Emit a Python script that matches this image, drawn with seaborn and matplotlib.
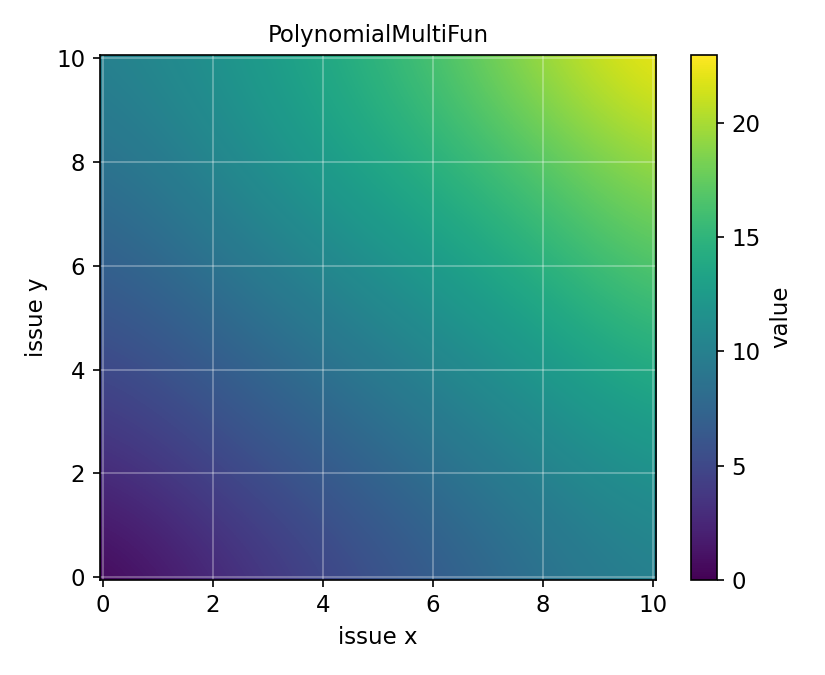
import matplotlib
matplotlib.use("Agg")
import matplotlib.pyplot as plt
import numpy as np
import seaborn as sns

# grid positions (issue x / issue y) and values
issue_x = [0, 2, 4, 6, 8, 10]
issue_y = [0, 2, 4, 6, 8, 10]

# one row per issue y value, bottom (y=0) to top (y=10)
value_y0 = [0.0, 2.4, 4.6, 6.5, 8.5, 10.0]
value_y2 = [2.6, 4.6, 6.4, 8.3, 10.1, 11.8]
value_y4 = [4.8, 6.6, 8.5, 10.3, 12.2, 14.3]
value_y6 = [6.8, 8.7, 10.6, 12.5, 14.6, 17.0]
value_y8 = [8.5, 10.5, 12.7, 14.7, 17.0, 19.6]
value_y10 = [10.0, 11.7, 13.9, 16.4, 19.9, 23.0]

values = np.array([value_y0, value_y2, value_y4, value_y6, value_y8, value_y10])

cmap = sns.color_palette("viridis", as_cmap=True)
plt.rcParams["font.size"] = 11

fig = plt.figure(figsize=(5.5, 4.5), dpi=150)
ax = fig.add_axes([0.121, 0.141, 0.674, 0.778])
cax = fig.add_axes([0.8376, 0.141, 0.0315, 0.778])

step = issue_x[1] - issue_x[0]
extent = (issue_x[0] - step / 2, issue_x[-1] + step / 2,
          issue_y[0] - step / 2, issue_y[-1] + step / 2)
im = ax.imshow(values, origin="lower", extent=extent, cmap=cmap,
               interpolation="bicubic", aspect="auto",
               vmin=values.min(), vmax=values.max())
ax.set_xlim(-0.05, 10.05)
ax.set_ylim(-0.05, 10.07)
ax.set_xticks(issue_x)
ax.set_yticks(issue_y)
ax.grid(True, color="white", alpha=0.3, linewidth=0.9)

ax.set_title("PolynomialMultiFun", fontsize=11)
ax.set_xlabel("issue x")
ax.set_ylabel("issue y")

cbar = fig.colorbar(im, cax=cax)
cbar.set_label("value")

plt.savefig("out.png", dpi=150)
